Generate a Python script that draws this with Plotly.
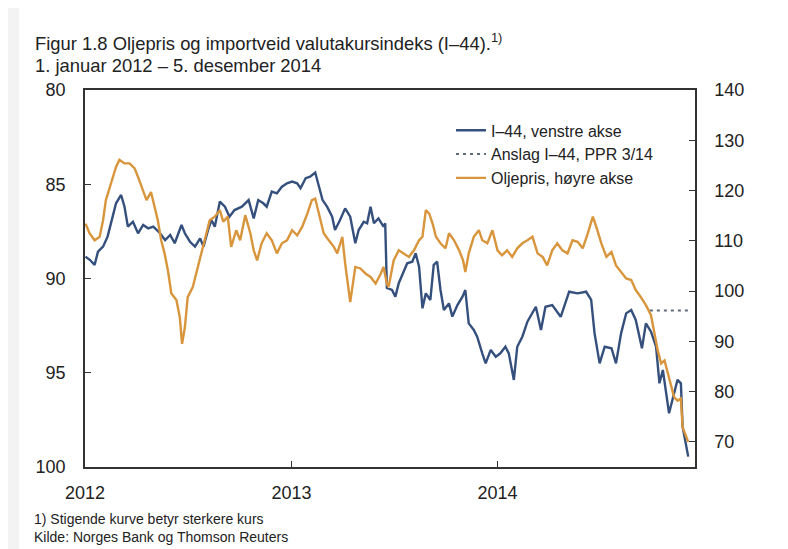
import plotly.graph_objects as go

# I-44 (left axis, reversed)
i44_dates = ["2012-01-02","2012-01-10","2012-01-18","2012-01-24","2012-02-02","2012-02-10","2012-02-19","2012-02-25",
"2012-03-05","2012-03-11","2012-03-17","2012-03-26","2012-04-04","2012-04-13","2012-04-22","2012-05-01","2012-05-13",
"2012-05-22","2012-05-31","2012-06-08","2012-06-20","2012-06-26","2012-07-05","2012-07-14","2012-07-23","2012-07-29",
"2012-08-06","2012-08-12","2012-08-18","2012-08-27","2012-09-05","2012-09-13","2012-09-22","2012-10-05","2012-10-17",
"2012-10-26","2012-11-03","2012-11-12","2012-11-18","2012-11-27","2012-12-06","2012-12-15","2012-12-24","2013-01-02",
"2013-01-11","2013-01-17","2013-01-26","2013-02-03","2013-02-12","2013-02-18","2013-02-25","2013-03-05","2013-03-14",
"2013-03-19","2013-03-28","2013-04-06","2013-04-15","2013-04-24","2013-04-30","2013-05-09","2013-05-15","2013-05-21",
"2013-05-27","2013-06-04","2013-06-13","2013-06-16","2013-06-19","2013-06-28","2013-07-04","2013-07-10","2013-07-19",
"2013-07-25","2013-08-03","2013-08-09","2013-08-15","2013-08-21","2013-08-27","2013-09-04","2013-09-10","2013-09-16",
"2013-09-22","2013-09-28","2013-10-07","2013-10-13","2013-10-22","2013-10-31","2013-11-05","2013-11-11","2013-11-20",
"2013-11-26","2013-12-05","2013-12-11","2013-12-20","2013-12-29","2014-01-06","2014-01-15","2014-01-21","2014-01-30",
"2014-02-05","2014-02-14","2014-02-23","2014-03-04","2014-03-10","2014-03-19","2014-03-27","2014-04-08","2014-04-23",
"2014-05-08","2014-05-23","2014-06-07","2014-06-16","2014-06-22","2014-07-01","2014-07-10","2014-07-22","2014-07-30",
"2014-08-08","2014-08-17","2014-08-26","2014-09-03","2014-09-14","2014-09-21","2014-09-30","2014-10-09","2014-10-15",
"2014-10-21","2014-11-01","2014-11-10","2014-11-16","2014-11-22","2014-11-25","2014-12-05"]
i44_values = [88.84,89.02,89.28,88.58,88.31,87.78,86.72,86.01,
85.57,86.19,87.25,86.99,87.60,87.16,87.34,87.25,87.60,
87.96,87.69,88.13,87.16,87.60,88.05,88.31,87.87,88.31,
87.43,86.90,87.25,85.92,86.19,86.72,86.37,86.19,85.84,
86.81,85.84,86.01,86.19,85.39,85.48,85.13,84.95,84.86,
84.95,85.21,84.68,84.60,84.38,85.13,85.84,86.19,86.72,
87.43,86.90,86.28,86.72,88.13,87.43,86.99,87.07,86.19,
87.07,86.81,87.25,87.07,90.50,90.61,90.96,90.25,89.55,
89.19,89.11,88.66,89.37,91.58,90.79,91.14,89.28,89.11,
90.61,91.67,91.32,92.02,91.41,90.96,90.61,92.38,92.73,
93.09,93.97,94.50,93.79,94.15,93.97,93.62,93.97,95.38,
93.62,93.09,92.29,91.85,91.50,92.73,91.50,91.41,92.03,
90.70,90.79,90.70,91.14,92.91,94.50,93.62,93.70,94.50,
92.91,91.85,91.67,92.20,93.70,92.38,92.82,93.62,95.56,
94.85,97.15,96.09,95.38,95.56,97.86,99.45]

# Forecast I-44, PPR 3/14
fc_dates = ["2014-09-28", "2014-12-05"]
fc_values = [91.7, 91.7]

# Oil price (right axis)
oil_dates = ["2012-01-02","2012-01-09","2012-01-18","2012-01-27","2012-02-02","2012-02-07","2012-02-16","2012-02-25",
"2012-03-02","2012-03-11","2012-03-20","2012-03-29","2012-04-04","2012-04-13","2012-04-19","2012-04-27","2012-05-03",
"2012-05-09","2012-05-15","2012-05-21","2012-05-27","2012-06-02","2012-06-11","2012-06-17","2012-06-21","2012-06-26",
"2012-07-01","2012-07-10","2012-07-19","2012-07-25","2012-07-31","2012-08-09","2012-08-18","2012-08-27","2012-09-02",
"2012-09-10","2012-09-16","2012-09-25","2012-10-02","2012-10-11","2012-10-20","2012-10-26","2012-11-01","2012-11-09",
"2012-11-18","2012-11-27","2012-12-06","2012-12-15","2012-12-24","2013-01-02","2013-01-11","2013-01-20","2013-01-29",
"2013-02-06","2013-02-12","2013-02-18","2013-02-27","2013-03-08","2013-03-17","2013-03-23","2013-04-01","2013-04-06",
"2013-04-15","2013-04-24","2013-05-03","2013-05-12","2013-05-21","2013-05-30","2013-06-07","2013-06-13","2013-06-19",
"2013-06-22","2013-07-01","2013-07-10","2013-07-19","2013-07-28","2013-08-06","2013-08-15","2013-08-21","2013-08-27",
"2013-09-02","2013-09-08","2013-09-14","2013-09-22","2013-10-01","2013-10-07","2013-10-16","2013-10-25","2013-11-01",
"2013-11-05","2013-11-11","2013-11-20","2013-11-29","2013-12-05","2013-12-14","2013-12-23","2014-01-01","2014-01-09",
"2014-01-18","2014-01-27","2014-02-05","2014-02-14","2014-02-23","2014-03-04","2014-03-13","2014-03-22","2014-03-30",
"2014-04-08","2014-04-17","2014-04-26","2014-05-05","2014-05-14","2014-05-23","2014-06-01","2014-06-10","2014-06-19",
"2014-06-25","2014-07-04","2014-07-13","2014-07-22","2014-07-30","2014-08-08","2014-08-17","2014-08-26","2014-09-03",
"2014-09-12","2014-09-21","2014-09-30","2014-10-06","2014-10-12","2014-10-18","2014-10-24","2014-10-30","2014-11-05",
"2014-11-10","2014-11-16","2014-11-22","2014-11-25","2014-12-05"]
oil_values = [113.4,111.5,110.1,110.8,114.1,118.1,121.4,124.7,
126.1,125.4,125.4,124.4,122.7,120.1,118.1,119.7,116.8,
114.1,110.1,107.5,104.1,99.5,98.2,94.8,89.5,92.8,
98.8,100.8,104.8,107.5,110.1,114.1,114.8,116.1,113.8,
114.8,108.8,112.1,110.1,115.1,111.5,108.1,106.1,109.5,
111.5,110.1,107.5,109.5,110.1,112.1,111.1,112.8,115.4,
118.1,118.4,115.4,111.5,110.1,108.8,107.5,110.8,105.5,
97.8,104.8,104.5,103.5,102.8,101.5,103.2,104.8,101.5,
100.8,106.1,108.1,107.5,106.8,108.1,110.1,110.8,116.1,
115.4,113.4,110.8,109.5,108.5,111.5,110.1,108.1,106.1,
103.8,107.5,110.8,112.1,110.1,109.5,112.1,108.1,107.1,
108.1,106.8,108.5,109.5,110.1,110.8,107.5,106.8,105.1,
108.1,109.5,108.1,107.5,110.1,109.8,108.5,111.5,114.8,
112.8,109.5,106.8,107.8,105.1,103.8,102.5,102.2,100.2,
98.8,97.2,95.2,91.5,88.2,85.6,86.2,83.6,81.2,
78.9,78.2,78.6,72.9,70.0]

left_ticks = [80, 85, 90, 95, 100]
right_ticks = [70, 80, 90, 100, 110, 120, 130, 140]
year_ticks = ["2012-01-01", "2013-01-01", "2014-01-01"]
year_labels = ["2012", "2013", "2014"]

BLUE = "#35507d"
ORANGE = "#d8953c"
DOT = "#5d6b7a"
FONT = "Liberation Sans, Arial, sans-serif"

fig = go.Figure()
fig.add_trace(go.Scatter(x=i44_dates, y=i44_values, name="I\u201344, venstre akse", mode="lines",
                         line=dict(color=BLUE, width=2.4), yaxis="y", legendrank=1))
fig.add_trace(go.Scatter(x=fc_dates, y=fc_values, name="Anslag I\u201344, PPR 3/14", mode="lines",
                         line=dict(color=DOT, width=2, dash="3px,4px"), yaxis="y", legendrank=2))
fig.add_trace(go.Scatter(x=oil_dates, y=oil_values, name="Oljepris, h\u00f8yre akse", mode="lines",
                         line=dict(color=ORANGE, width=2.4), yaxis="y2", legendrank=3))

axis_common = dict(showline=True, linecolor="#333333", linewidth=1.5, ticks="inside", ticklen=6,
                   tickcolor="#333333", tickwidth=1.2, showgrid=False, zeroline=False,
                   tickfont=dict(size=18, color="#222222", family=FONT))

# The page body adds an 8px offset, so the figure is 8px smaller and margins shifted.
fig.update_layout(
    width=780, height=541,
    margin=dict(l=77, r=93, t=82, b=82),
    paper_bgcolor="white", plot_bgcolor="white",
    font=dict(family=FONT, color="#222222"),
    showlegend=True,
    legend=dict(x=0.60, y=0.938, xanchor="left", yanchor="top", bgcolor="rgba(255,255,255,0)",
                font=dict(size=16, family=FONT, color="#222222"), tracegroupgap=0),
    xaxis=dict(type="date", range=["2012-01-01", "2014-12-17"], tickvals=year_ticks, ticktext=year_labels,
               mirror=True, ticklabelstandoff=9, **axis_common),
    yaxis=dict(range=[100, 80], tickvals=left_ticks, ticklabelstandoff=14, **axis_common),
    yaxis2=dict(range=[65, 140], tickvals=right_ticks, overlaying="y", side="right",
                ticklabelstandoff=14, **axis_common),
    shapes=[dict(type="rect", xref="paper", yref="paper", x0=-0.127, x1=-0.108, y0=-0.22, y1=1.22,
                 fillcolor="#f3f3f3", line=dict(width=0), layer="below")],
    annotations=[
        dict(text="Figur 1.8 Oljepris og importveid valutakursindeks (I\u201344).<sup>1)</sup>", xref="paper", yref="paper",
             x=-0.085, y=1.127, xanchor="left", yanchor="middle", showarrow=False,
             font=dict(size=18.4, family=FONT, color="#222222")),
        dict(text="1. januar 2012 \u2013 5. desember 2014", xref="paper", yref="paper",
             x=-0.085, y=1.066, xanchor="left", yanchor="middle", showarrow=False,
             font=dict(size=18.4, family=FONT, color="#222222")),
        dict(text="1) Stigende kurve betyr sterkere kurs", xref="paper", yref="paper",
             x=-0.087, y=-0.138, xanchor="left", yanchor="middle", showarrow=False,
             font=dict(size=14, family=FONT, color="#222222")),
        dict(text="Kilde: Norges Bank og Thomson Reuters", xref="paper", yref="paper",
             x=-0.087, y=-0.186, xanchor="left", yanchor="middle", showarrow=False,
             font=dict(size=14, family=FONT, color="#222222")),
    ],
)

fig.write_html("out.html")
